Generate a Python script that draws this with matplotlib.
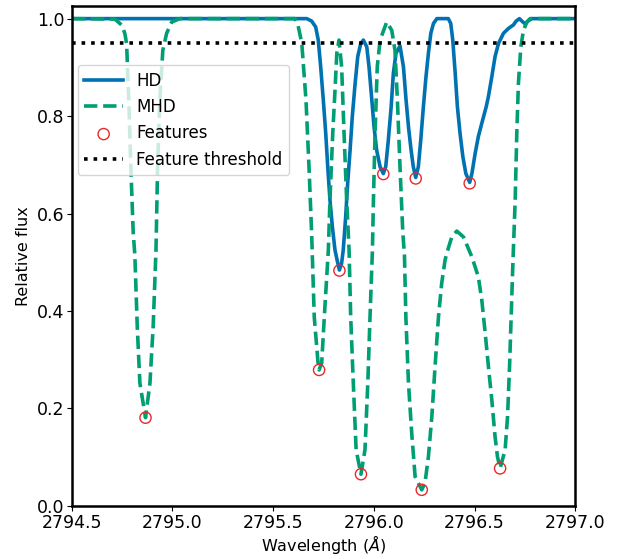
import matplotlib
matplotlib.use("Agg")
import matplotlib.pyplot as plt

# HD spectrum around the Mg II k line
hd_wave = [2794.500, 2795.667, 2795.691, 2795.711, 2795.724, 2795.736, 2795.749,
           2795.761, 2795.771, 2795.782, 2795.794, 2795.807, 2795.821, 2795.829,
           2795.840, 2795.848, 2795.860, 2795.870, 2795.882, 2795.893, 2795.907,
           2795.920, 2795.935, 2795.948, 2795.965, 2795.976, 2795.990, 2796.001,
           2796.014, 2796.031, 2796.047, 2796.059, 2796.072, 2796.086, 2796.097,
           2796.110, 2796.130, 2796.147, 2796.160, 2796.172, 2796.185, 2796.196,
           2796.208, 2796.221, 2796.233, 2796.246, 2796.259, 2796.271, 2796.283,
           2796.296, 2796.313, 2796.370, 2796.382, 2796.392, 2796.404, 2796.415,
           2796.428, 2796.442, 2796.457, 2796.476, 2796.487, 2796.503, 2796.519,
           2796.536, 2796.558, 2796.569, 2796.586, 2796.602, 2796.619, 2796.644,
           2796.669, 2796.693, 2796.707, 2796.723, 2796.735, 2796.752, 2796.765,
           2796.785, 2797.000]
hd_flux = [1.000, 1.000, 0.995, 0.983, 0.956, 0.901, 0.833,
           0.765, 0.696, 0.628, 0.573, 0.525, 0.498, 0.484,
           0.498, 0.525, 0.593, 0.662, 0.730, 0.799, 0.867,
           0.922, 0.949, 0.956, 0.942, 0.901, 0.833, 0.778,
           0.730, 0.696, 0.682, 0.696, 0.751, 0.819, 0.888,
           0.929, 0.944, 0.901, 0.833, 0.778, 0.730, 0.696,
           0.674, 0.696, 0.751, 0.819, 0.881, 0.929, 0.970,
           0.990, 1.000, 1.000, 0.990, 0.956, 0.888, 0.819,
           0.765, 0.717, 0.682, 0.664, 0.682, 0.723, 0.758,
           0.785, 0.819, 0.840, 0.881, 0.922, 0.949, 0.970,
           0.980, 0.987, 0.995, 1.000, 0.995, 0.989, 0.995,
           1.000, 1.000]

# MHD spectrum
mhd_wave = [2794.500, 2794.714, 2794.747, 2794.763, 2794.772, 2794.783, 2794.793,
            2794.805, 2794.813, 2794.825, 2794.838, 2794.866, 2794.888, 2794.904,
            2794.918, 2794.926, 2794.937, 2794.952, 2794.971, 2794.996, 2795.037,
            2795.608, 2795.623, 2795.642, 2795.663, 2795.678, 2795.691, 2795.704,
            2795.723, 2795.728, 2795.741, 2795.754, 2795.774, 2795.782, 2795.796,
            2795.809, 2795.816, 2795.827, 2795.840, 2795.852, 2795.865, 2795.877,
            2795.885, 2795.898, 2795.912, 2795.936, 2795.956, 2795.970, 2795.981,
            2795.993, 2795.998, 2796.006, 2796.017, 2796.031, 2796.064, 2796.089,
            2796.105, 2796.117, 2796.130, 2796.144, 2796.152, 2796.159, 2796.172,
            2796.188, 2796.205, 2796.238, 2796.254, 2796.271, 2796.288, 2796.304,
            2796.321, 2796.337, 2796.354, 2796.362, 2796.387, 2796.412, 2796.445,
            2796.487, 2796.519, 2796.536, 2796.553, 2796.569, 2796.586, 2796.602,
            2796.614, 2796.627, 2796.652, 2796.664, 2796.674, 2796.682, 2796.690,
            2796.702, 2796.710, 2796.718, 2796.730, 2796.743, 2796.760, 2796.776,
            2797.000]
mhd_flux = [1.000, 0.999, 0.987, 0.970, 0.949, 0.833, 0.695,
            0.560, 0.515, 0.368, 0.252, 0.181, 0.252, 0.368,
            0.525, 0.695, 0.833, 0.935, 0.970, 0.993, 1.000,
            1.000, 0.987, 0.950, 0.833, 0.695, 0.560, 0.388,
            0.293, 0.279, 0.293, 0.388, 0.525, 0.628, 0.765,
            0.868, 0.929, 0.956, 0.901, 0.765, 0.628, 0.525,
            0.388, 0.252, 0.115, 0.065, 0.115, 0.252, 0.388,
            0.525, 0.628, 0.765, 0.901, 0.956, 0.993, 0.976,
            0.935, 0.833, 0.695, 0.560, 0.515, 0.388, 0.252,
            0.150, 0.060, 0.033, 0.047, 0.101, 0.183, 0.286,
            0.388, 0.457, 0.505, 0.518, 0.552, 0.564, 0.552,
            0.511, 0.470, 0.423, 0.355, 0.286, 0.217, 0.142,
            0.101, 0.077, 0.115, 0.183, 0.286, 0.388, 0.491,
            0.628, 0.765, 0.867, 0.942, 0.976, 0.993, 1.000,
            1.000]

# detected absorption features
feat_wave = [2794.866, 2795.728, 2795.829, 2795.936, 2796.047,
             2796.208, 2796.238, 2796.476, 2796.627]
feat_flux = [0.181, 0.279, 0.483, 0.065, 0.681,
             0.672, 0.033, 0.662, 0.077]

threshold = 0.95

fig = plt.figure(figsize=(6.3, 5.59), dpi=100)
ax = fig.add_axes([0.114, 0.095, 0.799, 0.894])

ax.plot(hd_wave, hd_flux, color="#0072B2", lw=2.6, label="HD")
ax.plot(mhd_wave, mhd_flux, color="#009E73", lw=2.6, ls="--", label="MHD")
ax.scatter(feat_wave, feat_flux, s=65, facecolors="none", edgecolors="#e8282b",
           linewidths=1.0, zorder=3, label="Features")
ax.axhline(threshold, color="black", ls=":", lw=2.6, label="Feature threshold")

ax.set_xlim(2794.5, 2797.0)
ax.set_ylim(0, 1.0256)
ax.set_xticks([2794.5, 2795.0, 2795.5, 2796.0, 2796.5, 2797.0])
ax.set_xticklabels(["2794.5", "2795.0", "2795.5", "2796.0", "2796.5", "2797.0"])
ax.set_yticks([0.0, 0.2, 0.4, 0.6, 0.8, 1.0])
ax.tick_params(labelsize=12.5, pad=2)
for sp in ax.spines.values():
    sp.set_linewidth(1.8)

ax.set_xlabel(r"Wavelength ($\AA$)", fontsize=11.5, labelpad=1)
ax.set_ylabel("Relative flux", fontsize=11.5)

ax.legend(loc="upper left", bbox_to_anchor=(0.0, 0.894), fontsize=12,
          borderaxespad=0.36, handlelength=2.3)

fig.savefig("out.png", dpi=100)
